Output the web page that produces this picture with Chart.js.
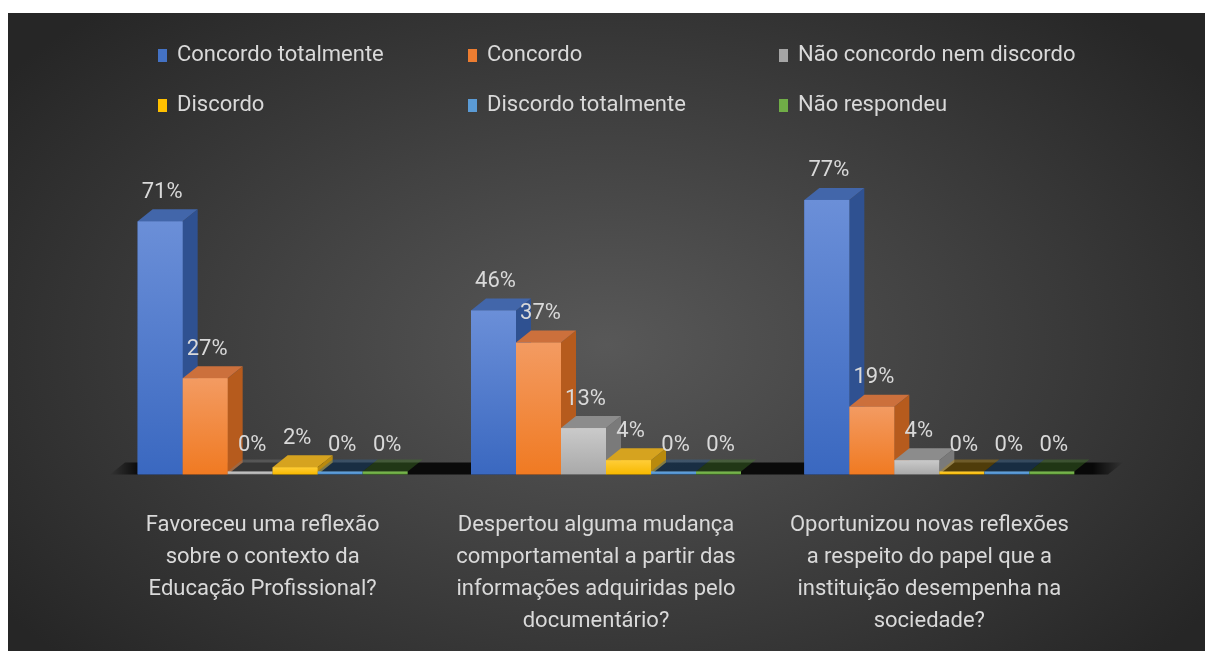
<!DOCTYPE html>
<html>
<head>
<meta charset="utf-8">
<script src="https://cdn.jsdelivr.net/npm/chart.js@4.4.1/dist/chart.umd.min.js"></script>
<style>
  html, body { margin: 0; padding: 0; background: #ffffff; }
  body { width: 1205px; height: 651px; overflow: hidden; position: relative; }
  #panel {
    position: absolute; left: 8px; top: 13px; width: 1197px; height: 638px;
    background: radial-gradient(ellipse 62% 72% at 50% 52%, #585858 0%, #424242 45%, #262626 100%);
  }
</style>
</head>
<body>
<div id="panel"><canvas id="chart"></canvas></div>
<script>
// categorias (perguntas), quebradas em linhas como no original
const categories = [
  ['Favoreceu uma reflexão', 'sobre o contexto da', 'Educação Profissional?'],
  ['Despertou alguma mudança', 'comportamental a partir das', 'informações adquiridas pelo', 'documentário?'],
  ['Oportunizou novas reflexões', 'a respeito do papel que a', 'instituição desempenha na', 'sociedade?']
];

const seriesNames = ['Concordo totalmente', 'Concordo', 'Não concordo nem discordo', 'Discordo', 'Discordo totalmente', 'Não respondeu'];

// valores em %
const concordoTotalmente = [71, 46, 77];
const concordo = [27, 37, 19];
const naoConcordoNemDiscordo = [0, 13, 4];
const discordo = [2, 4, 0];
const discordoTotalmente = [0, 0, 0];
const naoRespondeu = [0, 0, 0];

const seriesValues = [concordoTotalmente, concordo, naoConcordoNemDiscordo, discordo, discordoTotalmente, naoRespondeu];

// cores: frente (topo, base), face superior, face lateral
const palette = [
  { front: ['#6b8fd8', '#3a68c0'], top: '#4266aa', side: '#2f5191', key: '#4472c4' },
  { front: ['#f39b62', '#f07a22'], top: '#cc703c', side: '#b65b1d', key: '#ed7d31' },
  { front: ['#cacaca', '#a9a9a9'], top: '#8c8c8c', side: '#7a7a7a', key: '#a5a5a5' },
  { front: ['#ffcd38', '#f7b900'], top: '#d6a31f', side: '#b98a0d', key: '#ffc000' },
  { front: ['#6aa8e0', '#4a8bcb'], top: '#3f78b0', side: '#2f6598', key: '#5b9bd5' },
  { front: ['#80bd55', '#62a13a'], top: '#558f33', side: '#447a28', key: '#70ad47' }
];

const FONT = '"Liberation Sans Narrow", "Roboto", sans-serif';
const DX = 15, DY = -12;

function frontGradient(ctx, colors, top, bottom) {
  const g = ctx.createLinearGradient(0, top, 0, bottom);
  g.addColorStop(0, colors[0]);
  g.addColorStop(1, colors[1]);
  return g;
}

function poly(ctx, pts, fill) {
  ctx.beginPath();
  ctx.moveTo(pts[0][0], pts[0][1]);
  for (let k = 1; k < pts.length; k++) ctx.lineTo(pts[k][0], pts[k][1]);
  ctx.closePath();
  ctx.fillStyle = fill;
  ctx.fill();
}

// chão escuro por baixo das barras
const floorShadow = {
  id: 'floorShadow',
  beforeDatasetsDraw(chart) {
    const ctx = chart.ctx;
    const area = chart.chartArea;
    const base = chart.scales.y.getPixelForValue(0);
    const x0 = area.left + 4, x1 = area.right + 2;
    const g = ctx.createLinearGradient(x0, 0, x1 + DX, 0);
    g.addColorStop(0, 'rgba(0,0,0,0)');
    g.addColorStop(0.03, 'rgba(0,0,0,0.85)');
    g.addColorStop(0.97, 'rgba(0,0,0,0.85)');
    g.addColorStop(1, 'rgba(0,0,0,0)');
    ctx.save();
    poly(ctx, [[x0, base], [x1, base], [x1 + DX, base + DY], [x0 + DX, base + DY]], g);
    ctx.restore();
  }
};

// barras em 3D + rótulos de valor
const bars3d = {
  id: 'bars3d',
  afterDatasetsDraw(chart) {
    const ctx = chart.ctx;
    ctx.save();
    chart.data.datasets.forEach((ds, i) => {
      const meta = chart.getDatasetMeta(i);
      const pal = palette[i];
      meta.data.forEach((bar, j) => {
        const p = bar.getProps(['x', 'y', 'base', 'width'], true);
        const l = p.x - p.width / 2, r = p.x + p.width / 2;
        const isZero = ds.data[j] === 0;
        const top = isZero ? p.base - 3 : p.y;
        if (!isZero) {
          poly(ctx, [[r, top], [r + DX, top + DY], [r + DX, p.base + DY], [r, p.base]], pal.side);
          poly(ctx, [[l, top], [r, top], [r + DX, top + DY], [l + DX, top + DY]], pal.top);
        } else {
          ctx.globalAlpha = 0.4;
          poly(ctx, [[l, top], [r, top], [r + DX, top + DY], [l + DX, top + DY]], pal.side);
          ctx.globalAlpha = 1;
        }
        ctx.fillStyle = frontGradient(ctx, pal.front, top, p.base);
        ctx.fillRect(l, top, p.width, p.base - top);
      });
    });
    // rótulos
    ctx.font = '22px ' + FONT;
    ctx.fillStyle = '#d9d9d9';
    ctx.textAlign = 'center';
    ctx.textBaseline = 'middle';
    chart.data.datasets.forEach((ds, i) => {
      chart.getDatasetMeta(i).data.forEach((bar, j) => {
        const p = bar.getProps(['x', 'y', 'base'], true);
        const top = ds.data[j] === 0 ? p.base : p.y;
        ctx.fillText(ds.data[j] + '%', p.x + 2, top - 29);
      });
    });
    ctx.restore();
  }
};

// legenda em 3 colunas x 2 linhas
const gridLegend = {
  id: 'gridLegend',
  afterDraw(chart) {
    const ctx = chart.ctx;
    const colX = [150, 460, 771];
    const rowY = [42, 92];
    ctx.save();
    ctx.font = '22px ' + FONT;
    ctx.textAlign = 'left';
    ctx.textBaseline = 'middle';
    chart.data.datasets.forEach((ds, i) => {
      const x = colX[i % 3], y = rowY[Math.floor(i / 3)];
      ctx.fillStyle = palette[i].key;
      ctx.fillRect(x, y - 6, 9, 13);
      ctx.fillStyle = '#d9d9d9';
      ctx.fillText(ds.label, x + 19, y);
    });
    ctx.restore();
  }
};

const datasets = seriesNames.map((name, i) => ({
  label: name,
  data: seriesValues[i],
  backgroundColor: palette[i].key,
  borderWidth: 0,
  categoryPercentage: 0.81,
  barPercentage: 1
}));

new Chart(document.getElementById('chart'), {
  type: 'bar',
  data: { labels: categories, datasets: datasets },
  options: {
    responsive: true,
    maintainAspectRatio: false,
    animation: false,
    layout: { padding: { left: 98, right: 99, top: 105, bottom: -21 } },
    plugins: { legend: { display: false }, tooltip: { enabled: false } },
    scales: {
      x: {
        grid: { display: false, drawTicks: false },
        border: { display: false },
        ticks: {
          color: '#d9d9d9',
          font: { family: FONT, size: 22, lineHeight: 1.45 },
          padding: 35,
          labelOffset: -10,
          maxRotation: 0,
          autoSkip: false
        }
      },
      y: { display: false, min: 0, max: 100 }
    }
  },
  plugins: [floorShadow, bars3d, gridLegend]
});
</script>
</body>
</html>
